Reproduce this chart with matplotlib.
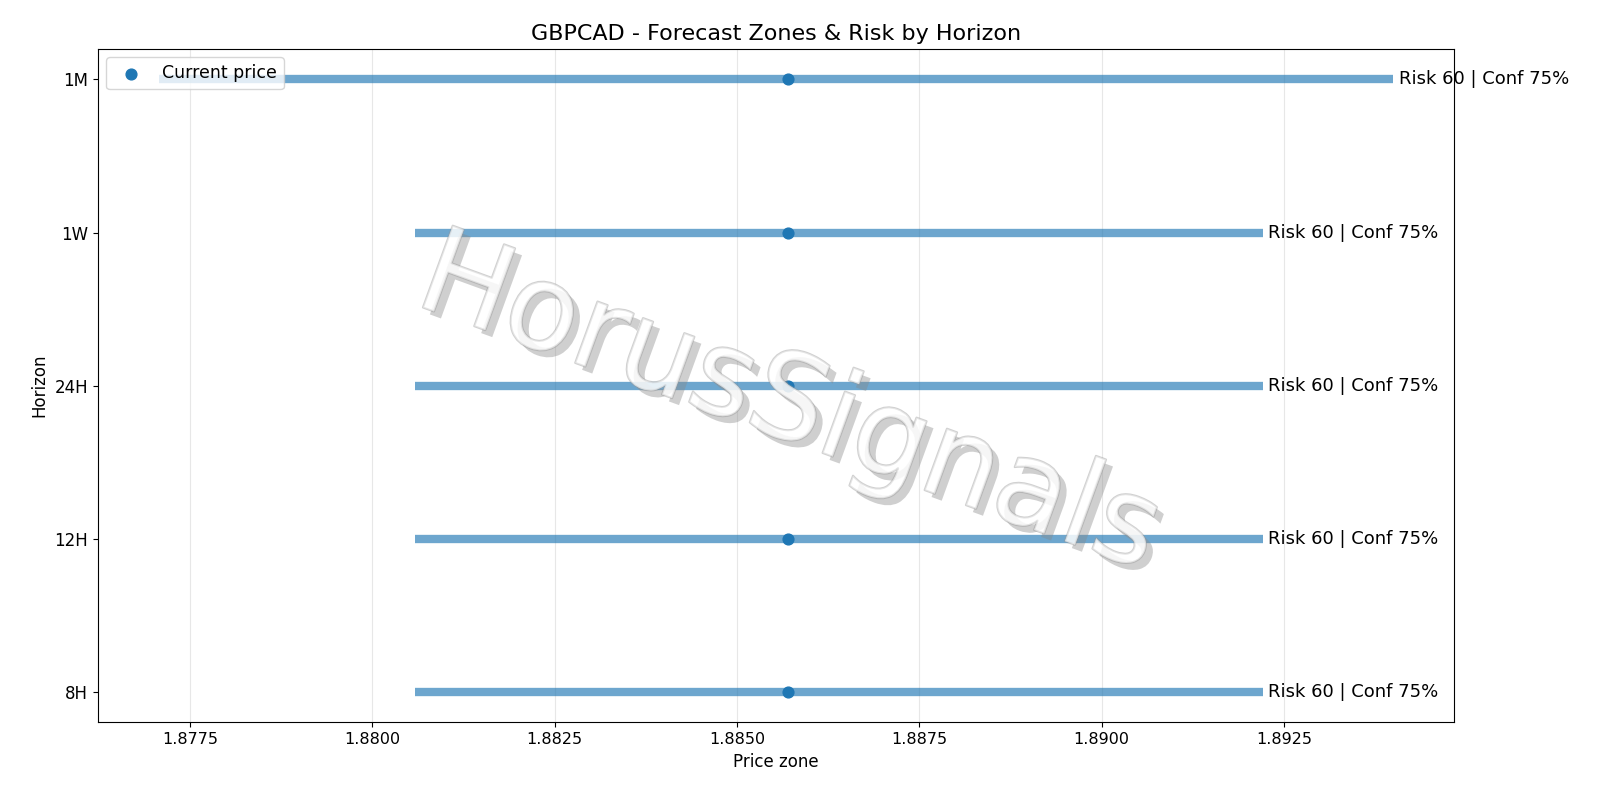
import matplotlib
matplotlib.use("Agg")
import matplotlib.pyplot as plt
import matplotlib.patheffects as pe

horizons = ["8H", "12H", "24H", "1W", "1M"]
zone_low = [1.88059, 1.88059, 1.88059, 1.88059, 1.87707]
zone_high = [1.89221, 1.89221, 1.89221, 1.89221, 1.89400]
current_price = 1.88570
risk = [60, 60, 60, 60, 60]
conf = [75, 75, 75, 75, 75]

fig, ax = plt.subplots(figsize=(16, 8), dpi=100)
fig.subplots_adjust(left=0.061, right=0.909, top=0.939, bottom=0.097)

ypos = list(range(len(horizons)))
for y, lo, hi, r, c in zip(ypos, zone_low, zone_high, risk, conf):
    ax.hlines(y, lo, hi, color="#1f77b4", alpha=0.65, linewidth=6)
    ax.text(hi + 0.00008, y, f"Risk {r} | Conf {c}%", va="center", ha="left", fontsize=13)
ax.scatter([current_price] * len(ypos), ypos, s=60, color="#1f77b4", zorder=3, label="Current price")

ax.set_yticks(ypos)
ax.set_yticklabels(horizons, fontsize=12)
ax.tick_params(axis="x", labelsize=11.5)
ax.set_xlim(1.87623, 1.89484)
ax.set_ylim(-0.2, 4.2)
ax.set_xticks([1.8775, 1.8800, 1.8825, 1.8850, 1.8875, 1.8900, 1.8925])
ax.set_xticklabels([f"{v:.4f}" for v in ax.get_xticks()])
ax.grid(axis="x", alpha=0.3)
ax.set_xlabel("Price zone", fontsize=12)
ax.set_ylabel("Horizon", fontsize=12)
ax.set_title("GBPCAD - Forecast Zones & Risk by Horizon", fontsize=16)
ax.legend(loc="upper left", fontsize=12.5)

ax.text(0.51, 0.47, "HorusSignals", transform=ax.transAxes, fontsize=86,
        rotation=-20, ha="center", va="center", color="white", alpha=0.45,
        path_effects=[pe.withSimplePatchShadow(offset=(5, -5), shadow_rgbFace="#888888", alpha=0.4),
                      pe.withStroke(linewidth=1.5, foreground="#999999")],
        zorder=5)

fig.savefig("out.png", dpi=100)
